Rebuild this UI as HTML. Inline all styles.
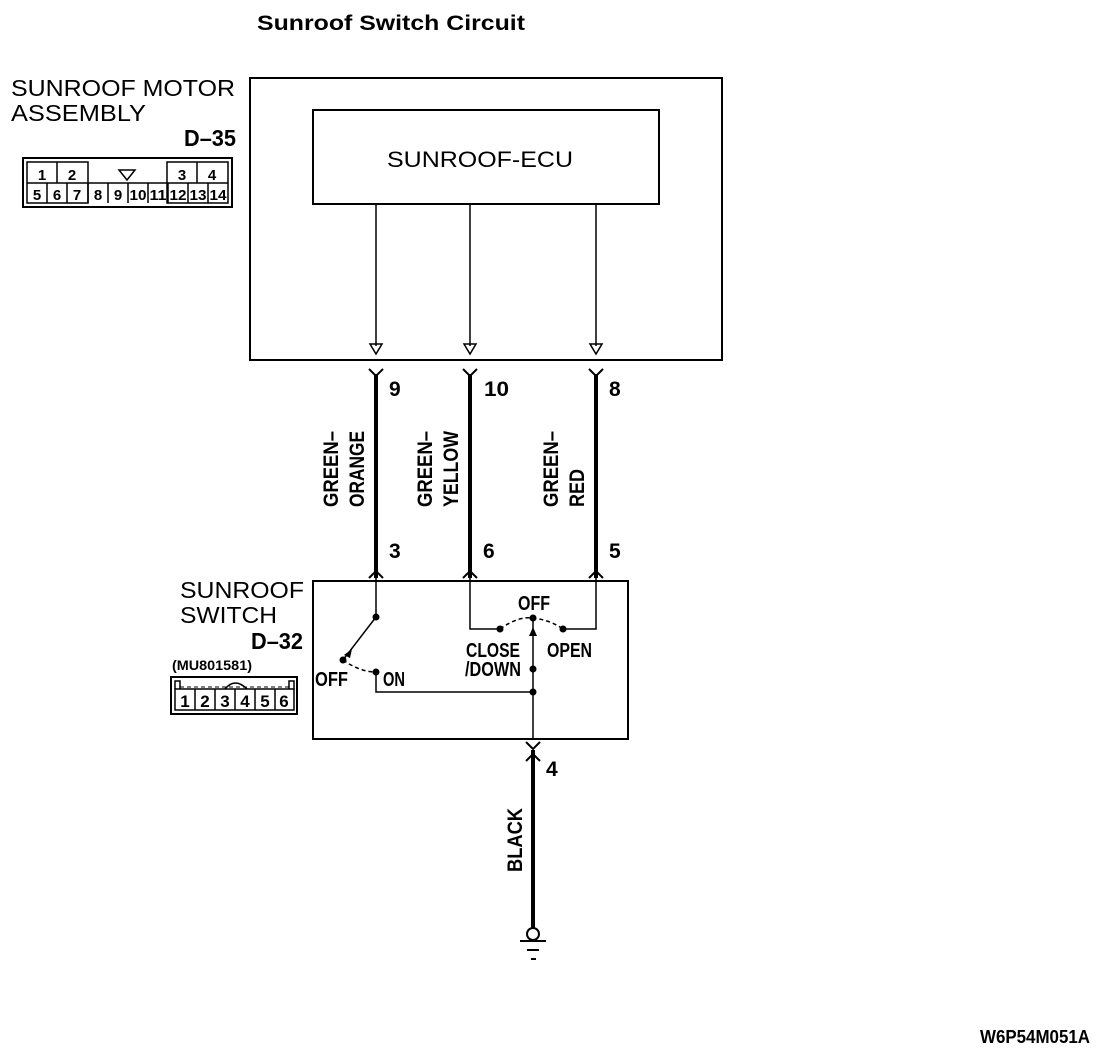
<!DOCTYPE html>
<html><head><style>body{margin:0;background:#fff}svg{display:block}text{font-family:"Liberation Sans",sans-serif;font-weight:bold;fill:#000}.n{font-weight:normal}</style></head><body>
<svg width="1120" height="1054" viewBox="0 0 1120 1054" xmlns="http://www.w3.org/2000/svg">
<text x="257" y="30" font-size="21" textLength="268" lengthAdjust="spacingAndGlyphs">Sunroof Switch Circuit</text>
<text class="n" x="11" y="96" font-size="23" textLength="224" lengthAdjust="spacingAndGlyphs">SUNROOF MOTOR</text>
<text class="n" x="11" y="121" font-size="23" textLength="135" lengthAdjust="spacingAndGlyphs">ASSEMBLY</text>
<text x="184" y="146" font-size="23" textLength="52" lengthAdjust="spacingAndGlyphs">D–35</text>
<g stroke="#000" fill="none" stroke-width="2">
<rect x="23" y="158" width="209" height="49"/>
<rect x="27" y="162" width="61" height="41" stroke-width="1.5"/>
<rect x="167" y="162" width="61" height="41" stroke-width="1.5"/>
<path d="M27 183H228M57 162v21M197 162v21M47 183v20M67 183v20M88 183v20M108 183v20M128 183v20M148 183v20M168 183v20M188 183v20M208 183v20" stroke-width="1.5"/>
<path d="M119 170h16l-8 10z" stroke-width="1.5"/>
</g>
<g font-size="15" text-anchor="middle">
<text x="42" y="180">1</text><text x="72" y="180">2</text><text x="182" y="180">3</text><text x="212" y="180">4</text>
<text x="37" y="200">5</text><text x="57" y="200">6</text><text x="77" y="200">7</text><text x="98" y="200">8</text><text x="118" y="200">9</text>
<text x="138" y="200" textLength="17" lengthAdjust="spacingAndGlyphs">10</text><text x="158" y="200" textLength="17" lengthAdjust="spacingAndGlyphs">11</text><text x="178" y="200" textLength="17" lengthAdjust="spacingAndGlyphs">12</text><text x="198" y="200" textLength="17" lengthAdjust="spacingAndGlyphs">13</text><text x="218" y="200" textLength="17" lengthAdjust="spacingAndGlyphs">14</text>
</g>
<g stroke="#000" fill="none" stroke-width="2">
<rect x="250" y="78" width="472" height="282"/>
<rect x="313" y="110" width="346" height="94"/>
<path d="M376 204V346M470 204V346M596 204V346" stroke-width="1.5"/>
<path d="M370 344h12l-6 10z M464 344h12l-6 10z M590 344h12l-6 10z" stroke-width="1.5"/>
<path d="M376 374V578M470 374V578M596 374V578" stroke-width="4"/>
<path d="M369 369l7 7 7-7M463 369l7 7 7-7M589 369l7 7 7-7" stroke-width="2"/>
<path d="M369 578l7-7 7 7M463 578l7-7 7 7M589 578l7-7 7 7" stroke-width="2"/>
<rect x="313" y="581" width="315" height="158"/>
<path d="M376 578V617M343 660L376 617M376 672V692H533M470 578V629H500M563 629H596V578M533 618V739" stroke-width="1.5"/>
<path d="M343 660Q360 672 376 672M500 629Q518 616 533 618Q550 620 563 629" stroke-dasharray="4 3" stroke-width="1.5"/>
<path d="M526 742l7 7 7-7M526 761l7-7 7 7" stroke-width="2"/>
<path d="M533 750V928" stroke-width="4"/>
<circle cx="533" cy="934" r="6"/>
<path d="M520 941H546M527 950H539M531 959H536"/>
</g>
<g fill="#000">
<circle cx="376" cy="617" r="3.5"/><circle cx="343" cy="660" r="3.5"/><circle cx="376" cy="672" r="3.5"/>
<circle cx="533" cy="692" r="3.5"/><circle cx="533" cy="669" r="3.5"/><circle cx="533" cy="618" r="3.5"/>
<circle cx="500" cy="629" r="3.5"/><circle cx="563" cy="629" r="3.5"/>
<path d="M529 636l4-9 4 9z"/><path d="M344 655l8-6-2 9z"/>
</g>
<text class="n" x="387" y="167" font-size="22" textLength="186" lengthAdjust="spacingAndGlyphs">SUNROOF-ECU</text>
<g font-size="21">
<text x="389" y="396">9</text><text x="484" y="396" textLength="25" lengthAdjust="spacingAndGlyphs">10</text><text x="609" y="396">8</text>
<text x="389" y="558">3</text><text x="483" y="558">6</text><text x="609" y="558">5</text>
<text x="546" y="776">4</text>
</g>
<g font-size="21">
<text transform="translate(338,507) rotate(-90)" textLength="76" lengthAdjust="spacingAndGlyphs">GREEN–</text>
<text transform="translate(364,507) rotate(-90)" textLength="76" lengthAdjust="spacingAndGlyphs">ORANGE</text>
<text transform="translate(432,507) rotate(-90)" textLength="76" lengthAdjust="spacingAndGlyphs">GREEN–</text>
<text transform="translate(458,507) rotate(-90)" textLength="76" lengthAdjust="spacingAndGlyphs">YELLOW</text>
<text transform="translate(558,507) rotate(-90)" textLength="76" lengthAdjust="spacingAndGlyphs">GREEN–</text>
<text transform="translate(584,507) rotate(-90)" textLength="38" lengthAdjust="spacingAndGlyphs">RED</text>
<text transform="translate(522,872) rotate(-90)" textLength="64" lengthAdjust="spacingAndGlyphs">BLACK</text>
</g>
<text class="n" x="180" y="598" font-size="23" textLength="124" lengthAdjust="spacingAndGlyphs">SUNROOF</text>
<text class="n" x="180" y="623" font-size="23" textLength="97" lengthAdjust="spacingAndGlyphs">SWITCH</text>
<text x="251" y="649" font-size="23" textLength="52" lengthAdjust="spacingAndGlyphs">D–32</text>
<text x="172" y="670" font-size="14" textLength="80" lengthAdjust="spacingAndGlyphs">(MU801581)</text>
<g stroke="#000" fill="none" stroke-width="1.5">
<rect x="171" y="677" width="126" height="37" stroke-width="2"/>
<rect x="175" y="689" width="119" height="21"/>
<path d="M195 689v21M215 689v21M235 689v21M255 689v21M275 689v21"/>
<path d="M175 689v-8h5v8M289 689v-8h5v8M225 689q10-12 22 0"/>
<path d="M180 687H289" stroke-dasharray="4 3" stroke-width="1"/>
</g>
<g font-size="17" text-anchor="middle">
<text x="185" y="707">1</text><text x="205" y="707">2</text><text x="225" y="707">3</text><text x="245" y="707">4</text><text x="265" y="707">5</text><text x="284" y="707">6</text>
</g>
<g font-size="20">
<text x="315" y="686" textLength="33" lengthAdjust="spacingAndGlyphs">OFF</text><text x="383" y="686" textLength="22" lengthAdjust="spacingAndGlyphs">ON</text>
<text x="518" y="610" textLength="32" lengthAdjust="spacingAndGlyphs">OFF</text>
<text x="466" y="657" textLength="54" lengthAdjust="spacingAndGlyphs">CLOSE</text><text x="465" y="676" textLength="56" lengthAdjust="spacingAndGlyphs">/DOWN</text>
<text x="547" y="657" textLength="45" lengthAdjust="spacingAndGlyphs">OPEN</text>
</g>
<text x="980" y="1043" font-size="18" textLength="110" lengthAdjust="spacingAndGlyphs">W6P54M051A</text>
</svg>
</body></html>
